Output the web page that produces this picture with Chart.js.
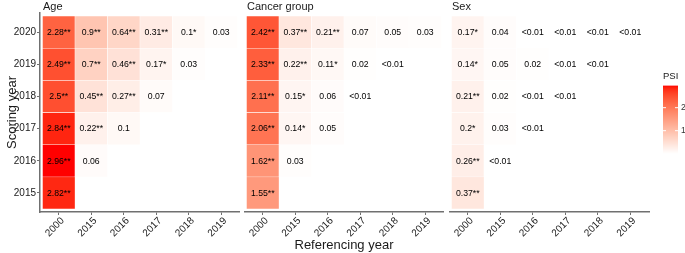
<!DOCTYPE html>
<html><head><meta charset="utf-8">
<script src="https://cdn.jsdelivr.net/npm/chart.js@4.4.0/dist/chart.umd.min.js"></script>
<style>
html,body{margin:0;padding:0;background:#fff;}
#wrap{position:relative;width:685px;height:253px;overflow:hidden;background:#fff;}
canvas{position:absolute;top:0;}
</style></head><body>
<div id="wrap">
<canvas id="c1" width="240" height="253" style="left:0px"></canvas>
<canvas id="c2" width="200" height="253" style="left:244px"></canvas>
<canvas id="c3" width="236" height="253" style="left:449px"></canvas>
</div>
<script>
// ---- data ----
const refYears = ['2000','2015','2016','2017','2018','2019'];
const scoreYears = ['2020','2019','2018','2017','2016','2015'];
const panelTitles = ['Age','Cancer group','Sex'];

// PSI values, rows = scoring year (2020 -> 2015), cols = referencing year; 0.005 means "<0.01"
const ageValues = [[2.28,0.9,0.64,0.31,0.1,0.03],[2.49,0.7,0.46,0.17,0.03],[2.5,0.45,0.27,0.07],[2.84,0.22,0.1],[2.96,0.06],[2.82]];
const ageStars  = [['**','**','**','**','*',''],['**','**','**','*',''],['**','**','**',''],['**','**',''],['**',''],['**']];
const cancerValues = [[2.42,0.37,0.21,0.07,0.05,0.03],[2.33,0.22,0.11,0.02,0.005],[2.11,0.15,0.06,0.005],[2.06,0.14,0.05],[1.62,0.03],[1.55]];
const cancerStars  = [['**','**','**','','',''],['**','**','*','',''],['**','*','',''],['**','*',''],['**',''],['**']];
const sexValues = [[0.17,0.04,0.005,0.005,0.005,0.005],[0.14,0.05,0.02,0.005,0.005],[0.21,0.02,0.005,0.005],[0.2,0.03,0.005],[0.26,0.005],[0.37]];
const sexStars  = [['*','','','','',''],['*','','','',''],['**','','',''],['*','',''],['**',''],['**']];
const legendTicks = [1, 2];
const psiMax = 2.96;

// ---- colour scale (white -> red, CIELAB interpolation) ----
function toLin(c){c/=255;return c<=0.04045?c/12.92:Math.pow((c+0.055)/1.055,2.4);}
function fromLin(c){const v=c<=0.0031308?12.92*c:1.055*Math.pow(c,1/2.4)-0.055;return Math.max(0,Math.min(255,Math.round(v*255)));}
function rgb2lab(r,g,b){
  r=toLin(r);g=toLin(g);b=toLin(b);
  let X=(0.4124*r+0.3576*g+0.1805*b)/0.95047, Y=(0.2126*r+0.7152*g+0.0722*b), Z=(0.0193*r+0.1192*g+0.9505*b)/1.08883;
  const f=t=>t>0.008856?Math.cbrt(t):(7.787*t+16/116);
  X=f(X);Y=f(Y);Z=f(Z);
  return [116*Y-16,500*(X-Y),200*(Y-Z)];
}
function lab2rgb(L,a,bb){
  let Y=(L+16)/116, X=a/500+Y, Z=Y-bb/200;
  const fi=t=>t*t*t>0.008856?t*t*t:(t-16/116)/7.787;
  X=fi(X)*0.95047;Y=fi(Y);Z=fi(Z)*1.08883;
  const r=3.2406*X-1.5372*Y-0.4986*Z, g=-0.9689*X+1.8758*Y+0.0415*Z, b=0.0557*X-0.2040*Y+1.0570*Z;
  return 'rgb('+fromLin(r)+','+fromLin(g)+','+fromLin(b)+')';
}
const labLow = rgb2lab(255,255,255), labHigh = rgb2lab(255,0,0);
function colorFor(v){
  const t=Math.max(0,Math.min(1,v/psiMax));
  return lab2rgb(labLow[0]+(labHigh[0]-labLow[0])*t, labLow[1]+(labHigh[1]-labLow[1])*t, labLow[2]+(labHigh[2]-labLow[2])*t);
}
function labelFor(v,s){ return v<0.01 ? '<0.01' : String(v)+s; }

const FONT = "'Liberation Sans', Arial, Helvetica, sans-serif";
const AXIS = '#707070';
const TXT = '#1a1a1a';

function makeDatasets(values, stars){
  return values.map((row, r) => ({
    data: row.map((v, c) => ({x: c + 0.5, y: [5 - r, 6 - r]})),
    backgroundColor: row.map(v => colorFor(v)),
    borderColor: '#ffffff',
    borderWidth: 0.5,
    borderSkipped: false,
    barPercentage: 1,
    categoryPercentage: 1,
    grouped: false,
    cellLabels: row.map((v, c) => labelFor(v, stars[r][c]))
  }));
}

const cellLabelPlugin = {
  id: 'cellLabels',
  afterDatasetsDraw(chart){
    const ctx = chart.ctx;
    ctx.save();
    ctx.font = '8.7px ' + FONT;
    ctx.fillStyle = '#000';
    ctx.textAlign = 'center';
    ctx.textBaseline = 'middle';
    chart.data.datasets.forEach((ds, i) => {
      const meta = chart.getDatasetMeta(i);
      meta.data.forEach((el, j) => {
        const p = el.getProps(['x','y','base'], true);
        ctx.fillText(ds.cellLabels[j], p.x, (p.y + p.base) / 2 + 0.5);
      });
    });
    ctx.restore();
  }
};

const stripPlugin = {
  id: 'strip',
  afterDraw(chart, args, opts){
    const ctx = chart.ctx;
    ctx.save();
    ctx.font = '11px ' + FONT;
    ctx.fillStyle = TXT;
    ctx.textAlign = 'left';
    ctx.textBaseline = 'alphabetic';
    ctx.fillText(opts.text, chart.chartArea.left + 3, 9.5);
    ctx.restore();
  }
};

const colorbarPlugin = {
  id: 'colorbar',
  afterDraw(chart, args, opts){
    if (!opts.show) return;
    const ctx = chart.ctx;
    const x0 = 214, w = 15, yBottom = 153.7, unit = 23;
    const yTop = yBottom - psiMax * unit;
    ctx.save();
    for (let y = Math.floor(yTop); y < yBottom; y++) {
      const v = (yBottom - (y + 0.5)) / unit;
      ctx.fillStyle = colorFor(v);
      const top = Math.max(y, yTop);
      ctx.fillRect(x0, top, w, Math.min(y + 1, yBottom) - top);
    }
    ctx.strokeStyle = '#ffffff';
    ctx.lineWidth = 1;
    ctx.font = '8.5px ' + FONT;
    ctx.fillStyle = '#333';
    ctx.textAlign = 'left';
    ctx.textBaseline = 'middle';
    legendTicks.forEach(t => {
      const y = yBottom - t * unit;
      ctx.beginPath();
      ctx.moveTo(x0, y); ctx.lineTo(x0 + 3, y);
      ctx.moveTo(x0 + w - 3, y); ctx.lineTo(x0 + w, y);
      ctx.stroke();
      ctx.fillText(String(t), x0 + w + 3, y);
    });
    ctx.font = '9.5px ' + FONT;
    ctx.fillStyle = TXT;
    ctx.textBaseline = 'alphabetic';
    ctx.fillText('PSI', x0, 79);
    ctx.restore();
  }
};

function makeChart(id, values, stars, idx){
  const showY = idx === 0;
  const showXTitle = idx === 1;
  return new Chart(document.getElementById(id), {
    type: 'bar',
    data: { datasets: makeDatasets(values, stars) },
    plugins: [cellLabelPlugin, stripPlugin, colorbarPlugin],
    options: {
      responsive: false,
      animation: false,
      events: [],
      layout: { padding: { top: 13, left: 0, right: idx === 2 ? 36 : 0, bottom: 0 } },
      plugins: {
        legend: { display: false },
        tooltip: { enabled: false },
        strip: { text: panelTitles[idx] },
        colorbar: { show: idx === 2 }
      },
      scales: {
        x: {
          type: 'linear',
          offset: false,
          min: -0.077, max: 6.077,
          afterBuildTicks: s => { s.ticks = refYears.map((y, i) => ({ value: i + 0.5 })); },
          afterFit: s => { s.height = 41; },
          ticks: {
            autoSkip: false, minRotation: 45, maxRotation: 45,
            padding: 0,
            labelOffset: 4,
            color: TXT,
            font: { family: FONT, size: 10 },
            callback: (v, i) => refYears[i]
          },
          grid: { display: true, offset: false, drawOnChartArea: false, drawTicks: true, tickLength: 3, color: AXIS, lineWidth: 1 },
          border: { display: true, color: AXIS, width: 1.5 },
          title: {
            display: showXTitle, text: 'Referencing year',
            color: TXT, font: { family: FONT, size: 13 },
            padding: { top: 0, bottom: 0 }
          }
        },
        y: {
          type: 'linear',
          display: showY,
          offset: false,
          min: -0.093, max: 6.093,
          afterBuildTicks: s => { s.ticks = scoreYears.map((y, i) => ({ value: 5.5 - i })); },
          afterFit: s => { s.width = showY ? 40 : 0; },
          ticks: {
            autoSkip: false,
            padding: 1,
            color: TXT,
            font: { family: FONT, size: 10 },
            callback: (v, i) => scoreYears[5 - Math.floor(v)]
          },
          grid: { display: true, offset: false, drawOnChartArea: false, drawTicks: true, tickLength: 3, color: AXIS, lineWidth: 1 },
          border: { display: true, color: AXIS, width: 1.5 },
          title: {
            display: showY, text: 'Scoring year',
            color: TXT, font: { family: FONT, size: 13 },
            padding: { top: 5, bottom: 0 }
          }
        }
      }
    }
  });
}

makeChart('c1', ageValues, ageStars, 0);
makeChart('c2', cancerValues, cancerStars, 1);
makeChart('c3', sexValues, sexStars, 2);
</script>
</body></html>
